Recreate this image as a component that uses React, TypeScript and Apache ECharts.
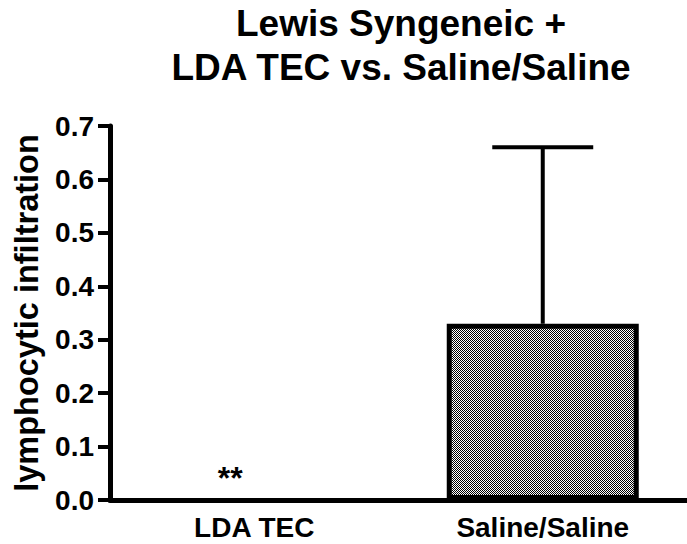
import React, { useEffect, useRef } from "react";
import * as echarts from "echarts";

// Group labels along the x axis
const categories = ["LDA TEC", "Saline/Saline"];
// Group means (lymphocytic infiltration score)
const means = [0, 0.33];
// Upper error (SEM) for each group
const errors = [0, 0.33];
// Significance marks shown over each group
const marks = ["**", ""];
// Y axis ticks
const yTicks = [0, 0.1, 0.2, 0.3, 0.4, 0.5, 0.6, 0.7];

const FONT = "'Liberation Sans', Arial, Helvetica, sans-serif";

function makePattern(): HTMLCanvasElement {
  const c = document.createElement("canvas");
  c.width = 2;
  c.height = 2;
  const ctx = c.getContext("2d")!;
  ctx.fillStyle = "#ffffff";
  ctx.fillRect(0, 0, 2, 2);
  ctx.fillStyle = "#000000";
  ctx.fillRect(0, 0, 1, 1);
  ctx.fillRect(1, 1, 1, 1);
  return c;
}

export default function App() {
  const ref = useRef<HTMLDivElement>(null);

  useEffect(() => {
    if (!ref.current) return;
    const chart = echarts.init(ref.current, undefined, { renderer: "svg" });
    const pattern = makePattern();

    const barData = means.map((v, i) => ({
      value: v,
      itemStyle:
        v === 0
          ? { color: "transparent", borderWidth: 0 }
          : { color: { image: pattern, repeat: "repeat" }, borderColor: "#000", borderWidth: 5 },
      label: {
        show: marks[i] !== "",
        formatter: marks[i],
        position: "top",
        distance: 6,
        offset: [-24, 0],
        fontSize: 32,
        fontWeight: "bold",
        fontFamily: FONT,
        color: "#000",
      },
    }));

    const errData = means.map((v, i) => [i, v, v + errors[i]]);

    chart.setOption({
      animation: false,
      backgroundColor: "#ffffff",
      title: {
        text: "Lewis Syngeneic +\nLDA TEC vs. Saline/Saline",
        left: 401,
        top: 1,
        padding: 0,
        textAlign: "center",
        textStyle: {
          fontFamily: FONT,
          fontSize: 37,
          fontWeight: "bold",
          color: "#000",
          lineHeight: 44,
        },
      },
      grid: { left: 110, top: 126, width: 582, height: 374, containLabel: false },
      xAxis: {
        type: "category",
        data: categories,
        axisLine: { lineStyle: { color: "#000", width: 5 } },
        axisTick: { alignWithLabel: true, length: 12, lineStyle: { color: "#000", width: 4 } },
        axisLabel: {
          margin: 13,
          fontFamily: FONT,
          fontSize: 28,
          fontWeight: "bold",
          color: "#000",
        },
      },
      yAxis: {
        type: "value",
        min: yTicks[0],
        max: yTicks[yTicks.length - 1],
        interval: 0.1,
        name: "lymphocytic infiltration",
        nameLocation: "middle",
        nameGap: 67,
        nameTextStyle: {
          fontFamily: FONT,
          fontSize: 32.5,
          fontWeight: "bold",
          color: "#000",
        },
        splitLine: { show: false },
        axisLine: { show: true, lineStyle: { color: "#000", width: 5 } },
        axisTick: { show: true, length: 12, lineStyle: { color: "#000", width: 4 } },
        axisLabel: {
          margin: 16,
          fontFamily: FONT,
          fontSize: 28,
          fontWeight: "bold",
          color: "#000",
          formatter: (v: number) => v.toFixed(1),
        },
      },
      series: [
        {
          type: "custom",
          z: 1,
          data: errData,
          renderItem: (params: any, api: any) => {
            const idx = api.value(0);
            const lo = api.value(1);
            const hi = api.value(2);
            if (hi <= lo) return null;
            const pLo = api.coord([idx, lo]);
            const pHi = api.coord([idx, hi]);
            const half = api.size([1, 0])[0] * 0.175;
            return {
              type: "group",
              children: [
                {
                  type: "line",
                  shape: { x1: pLo[0], y1: pLo[1], x2: pHi[0], y2: pHi[1] },
                  style: { stroke: "#000", lineWidth: 4 },
                },
                {
                  type: "line",
                  shape: { x1: pHi[0] - half, y1: pHi[1], x2: pHi[0] + half, y2: pHi[1] },
                  style: { stroke: "#000", lineWidth: 4 },
                },
              ],
            };
          },
        },
        {
          type: "bar",
          z: 2,
          barWidth: 192,
          data: barData,
        },
      ],
    });

    return () => chart.dispose();
  }, []);

  return (
    <div
      ref={ref}
      style={{ position: "fixed", left: 0, top: 0, width: 687, height: 544 }}
    />
  );
}
